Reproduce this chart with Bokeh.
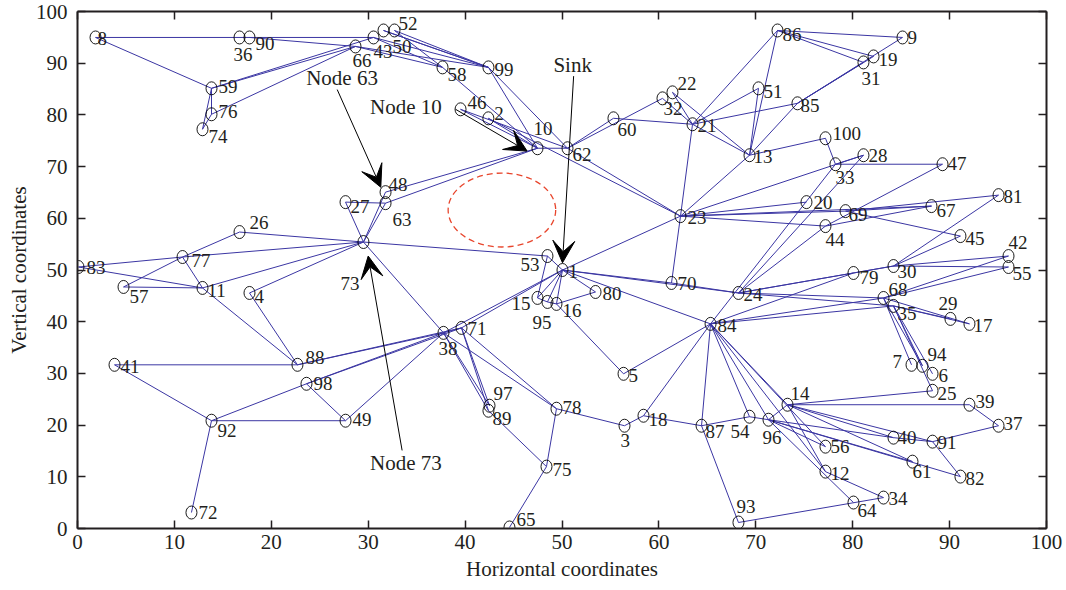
from bokeh.plotting import figure
from bokeh.models import (Range1d, LinearAxis, FixedTicker, ColumnDataSource, Arrow, VeeHead, Label)
from bokeh.core.properties import value
from bokeh.embed import file_html
from bokeh.resources import INLINE

# ---------------- data ----------------
node_ids = list(range(1, 101))
node_x = [50.05, 42.4, 56.45, 17.75, 56.35, 88.24, 86.07, 1.86, 85.14, 47.47,
          12.9, 77.19, 69.35, 73.27, 47.47, 49.43, 92.05, 58.41, 82.15, 75.23,
          63.47, 61.4, 62.23, 68.21, 88.24, 16.72, 27.66, 81.11, 90.09, 84.21,
          81.11, 60.37, 78.22, 83.18, 84.21, 16.72, 95.05, 37.77, 92.05, 84.21,
          3.82, 96.08, 30.55, 77.19, 91.12, 39.53, 89.27, 31.79, 27.66, 31.58,
          70.28, 32.71, 48.5, 69.35, 96.08, 77.19, 4.75, 37.67, 13.83, 55.31,
          86.17, 50.57, 31.79, 80.08, 44.58, 28.69, 88.13, 83.18, 79.26, 61.3,
          39.63, 11.76, 29.51, 12.9, 48.4, 13.83, 10.84, 49.43, 80.08, 53.46,
          95.05, 91.12, 0.1, 65.33, 74.3, 72.24, 64.4, 22.7, 42.41, 17.75,
          88.24, 13.83, 68.21, 87.2, 48.5, 71.31, 42.52, 23.63, 42.41, 77.19]
node_y = [50.0, 79.34, 19.88, 45.56, 29.92, 29.92, 31.66, 94.98, 94.98, 73.55,
          46.53, 11.0, 72.2, 23.94, 44.6, 43.44, 39.58, 21.81, 91.31, 63.13,
          78.19, 84.36, 60.42, 45.56, 26.64, 57.34, 63.13, 72.2, 40.54, 50.77,
          90.15, 83.2, 70.46, 5.98, 43.05, 94.98, 19.88, 37.84, 23.94, 17.57,
          31.66, 52.7, 94.98, 58.49, 56.56, 81.08, 70.46, 65.06, 20.85, 96.33,
          85.14, 96.33, 52.7, 21.62, 50.58, 15.83, 46.72, 89.19, 85.14, 79.34,
          12.93, 73.55, 62.93, 5.02, 0.2, 93.24, 62.36, 44.59, 61.39, 47.49,
          38.8, 3.09, 55.41, 77.22, 11.97, 80.12, 52.51, 23.17, 49.42, 45.75,
          64.48, 10.04, 50.58, 39.58, 82.24, 96.33, 19.88, 31.66, 22.78, 94.98,
          16.8, 20.85, 1.16, 31.47, 43.82, 21.04, 23.75, 27.99, 89.19, 75.48]

edge_from = [8, 90, 8, 59, 59, 74, 59, 59, 76,
             66, 43, 52, 50, 43, 50, 52, 66,
             58, 99, 99, 46, 46, 2, 2, 10, 48, 63,
             62, 62, 62, 60, 32, 22, 22, 21, 21, 21, 21, 51, 86, 21, 23,
             13, 85, 85, 85, 86, 86, 86, 13,
             100, 33, 33, 84, 23,
             23, 23, 23, 23, 69, 44, 69, 69, 44,
             24, 24, 1, 1, 70, 23, 1,
             24, 79, 24, 30, 30, 30, 30, 84,
             68, 68, 24, 84, 84, 68, 35, 35, 24,
             68, 68, 35, 35, 35,
             84, 84, 84, 84, 84, 84, 84, 84, 1,
             14, 14, 14, 14, 14, 14, 14, 39, 37, 91, 40,
             96, 96, 96, 96, 96, 12, 93, 87,
             78, 3, 18, 87, 54,
             73, 83, 77, 73, 73, 73, 73, 73, 73, 73, 27,
             77, 77, 77, 83, 57, 11, 4, 41, 41,
             88, 88, 98, 98, 92, 92, 49, 49, 92,
             38, 1, 1, 38, 38, 71, 71, 38, 71, 89, 78, 75,
             1, 53, 1, 1, 1, 15, 95, 16, 1, 16]
edge_to = [43, 66, 59, 74, 76, 76, 66, 43, 66,
           58, 58, 58, 99, 99, 99, 99, 99,
           10, 10, 62, 10, 62, 10, 23, 62, 10, 10,
           60, 32, 23, 21, 21, 21, 13, 13, 86, 51, 85, 13, 13, 23, 13,
           85, 9, 19, 31, 9, 19, 31, 100,
           33, 28, 47, 33, 28,
           20, 69, 67, 44, 67, 67, 45, 81, 47,
           44, 28, 24, 70, 24, 70, 23,
           79, 30, 30, 42, 55, 81, 45, 79,
           42, 55, 68, 68, 35, 17, 29, 17, 35,
           7, 94, 6, 25, 94,
           5, 18, 87, 54, 96, 14, 12, 56, 84,
           96, 25, 39, 40, 91, 61, 12, 37, 91, 82, 91,
           40, 61, 56, 64, 82, 34, 34, 93,
           3, 18, 87, 54, 96,
           26, 77, 73, 11, 4, 27, 63, 48, 53, 38, 63,
           26, 57, 11, 11, 11, 88, 88, 88, 92,
           38, 71, 38, 71, 98, 49, 98, 38, 72,
           71, 38, 71, 97, 89, 97, 89, 78, 78, 75, 75, 65,
           53, 15, 15, 95, 16, 95, 16, 80, 80, 5]

annot_text = ["Node 63", "Node 10", "Sink", "Node 73"]
annot_x = [27.3, 33.9, 51.1, 33.9]
annot_y = [87.1, 81.5, 89.6, 12.7]
arrow_x0 = [26.8, 39.0, 51.2, 33.5]
arrow_y0 = [84.9, 81.1, 87.5, 15.1]
arrow_x1 = [31.3, 46.4, 50.05, 30.0]
arrow_y1 = [66.0, 73.0, 51.4, 52.7]

hole_x, hole_y, hole_w, hole_h = 43.8, 61.6, 11.1, 14.3

ticks = [0, 10, 20, 30, 40, 50, 60, 70, 80, 90, 100]

# label placement (pixels) – layout only
default_off = (6, 2)
label_off = {
    1: (6, 1), 2: (6, -5), 3: (-4, 15), 4: (5, 4), 5: (5, 2), 6: (6, 2), 7: (-19, -3), 8: (2, 1),
    9: (5, 0), 10: (-4, -20), 11: (5, 3), 12: (5, 2), 13: (4, 1), 14: (3, -11), 15: (-26, 6),
    16: (6, 7), 17: (4, 2), 18: (5, 4), 19: (5, 3), 20: (7, 0), 21: (5, 1), 22: (5, -9),
    23: (7, 1), 24: (5, 2), 25: (5, 3), 26: (10, -10), 27: (5, 4), 28: (5, 0), 29: (-12, -15),
    30: (4, 5), 31: (-2, 16), 32: (1, 10), 33: (0, 13), 34: (5, 1), 35: (4, 8), 36: (-6, 17),
    37: (5, -2), 38: (-5, 16), 39: (6, -3), 40: (4, 0), 41: (6, 2), 42: (0, -14), 43: (0, 14),
    44: (0, 13), 45: (5, 2), 46: (7, -7), 47: (5, -1), 48: (3, -8), 49: (7, -1), 50: (9, 16),
    51: (5, 3), 52: (4, -7), 53: (-27, 8), 54: (-19, 15), 55: (4, 6), 56: (5, 0), 57: (6, 10),
    58: (5, 7), 59: (7, -2), 60: (4, 11), 61: (0, 10), 62: (5, 6), 63: (7, 16), 64: (4, 8),
    65: (7, -8), 66: (-3, 14), 67: (5, 4), 68: (5, -8), 69: (3, 3), 70: (6, 1), 71: (6, 1),
    72: (7, 0), 73: (-23, 41), 74: (6, 7), 75: (6, 3), 76: (7, -3), 77: (9, 3), 78: (6, -1),
    79: (6, 5), 80: (7, 2), 81: (5, 1), 82: (5, 2), 83: (8, 0), 84: (7, 2), 85: (3, 2),
    86: (5, 4), 87: (4, 6), 88: (8, -7), 89: (4, 8), 90: (6, 6), 91: (5, 1), 92: (6, 10),
    93: (-2, -16), 94: (5, -11), 95: (-15, 21), 96: (-6, 18), 97: (4, -12), 98: (7, 0),
    99: (6, 2), 100: (7, -5),
}

FONT = "Liberation Serif"
LINE = "#3b36a3"
TXT = "#231f20"

p = figure(width=1066, height=590, frame_width=969, frame_height=517,
           x_range=Range1d(0, 100), y_range=Range1d(0, 100),
           output_backend="svg", toolbar_location=None,
           min_border_left=77, min_border_right=20, min_border_top=11, min_border_bottom=62)
p.grid.visible = False
p.outline_line_color = None
p.background_fill_color = "white"
p.border_fill_color = "white"

# edges
pos = {n: (x, y) for n, x, y in zip(node_ids, node_x, node_y)}
xs = [[pos[a][0], pos[b][0]] for a, b in zip(edge_from, edge_to)]
ys = [[pos[a][1], pos[b][1]] for a, b in zip(edge_from, edge_to)]
p.multi_line(xs, ys, line_color=LINE, line_width=1.0)

# nodes
p.ellipse(x=node_x, y=node_y, width=11, height=13, width_units="screen", height_units="screen",
          fill_color=None, line_color="black", line_width=0.9)

# labels
src = ColumnDataSource(dict(
    x=node_x, y=node_y, t=[str(n) for n in node_ids],
    dx=[label_off.get(n, default_off)[0] for n in node_ids],
    dy=[label_off.get(n, default_off)[1] for n in node_ids]))
p.text(x="x", y="y", text="t", x_offset="dx", y_offset="dy", source=src,
       text_font=value(FONT), text_font_size="19px", text_color=TXT,
       text_align="left", text_baseline="middle")

# hole ellipse
p.ellipse(x=[hole_x], y=[hole_y], width=[hole_w], height=[hole_h], fill_color=None,
          line_color="#e8452c", line_dash="6 4", line_width=1.3)

# annotations
for t, tx, ty in zip(annot_text, annot_x, annot_y):
    p.add_layout(Label(x=tx, y=ty, text=t, text_font=FONT, text_font_size="21px",
                       text_color=TXT, text_align="center", text_baseline="middle"))
for x0, y0, x1, y1 in zip(arrow_x0, arrow_y0, arrow_x1, arrow_y1):
    p.add_layout(Arrow(x_start=x0, y_start=y0, x_end=x1, y_end=y1, line_color="black",
                       line_width=1.0,
                       end=VeeHead(size=22, fill_color="black", line_color="black", line_width=1)))

# axes
for ax in [p.xaxis[0], p.yaxis[0]]:
    ax.ticker = FixedTicker(ticks=ticks)
    ax.major_tick_in = 8
    ax.major_tick_out = 0
    ax.minor_tick_line_color = None
    ax.axis_line_width = 2
    ax.axis_line_color = "#231f20"
    ax.major_tick_line_width = 1.5
    ax.major_tick_line_color = "#231f20"
    ax.major_label_text_font = FONT
    ax.major_label_text_font_size = "21px"
    ax.major_label_text_color = TXT
    ax.axis_label_text_font = FONT
    ax.axis_label_text_font_size = "21px"
    ax.axis_label_text_font_style = "normal"
    ax.axis_label_text_color = TXT
p.xaxis[0].axis_label = "Horizontal coordinates"
p.yaxis[0].axis_label = "Vertical coordinates"
p.xaxis[0].major_label_standoff = 6
p.yaxis[0].major_label_standoff = 10
p.xaxis[0].axis_label_standoff = 5
p.yaxis[0].axis_label_standoff = 2

for loc in ["above", "right"]:
    ax = LinearAxis(ticker=FixedTicker(ticks=ticks), major_tick_in=8, major_tick_out=0,
                    minor_tick_line_color=None, axis_line_width=2, axis_line_color="#231f20",
                    major_tick_line_width=1.5, major_tick_line_color="#231f20",
                    major_label_overrides={t: "" for t in ticks},
                    major_label_text_font_size="1px", major_label_standoff=0)
    p.add_layout(ax, loc)

open("out.html", "w").write(file_html(p, INLINE))
